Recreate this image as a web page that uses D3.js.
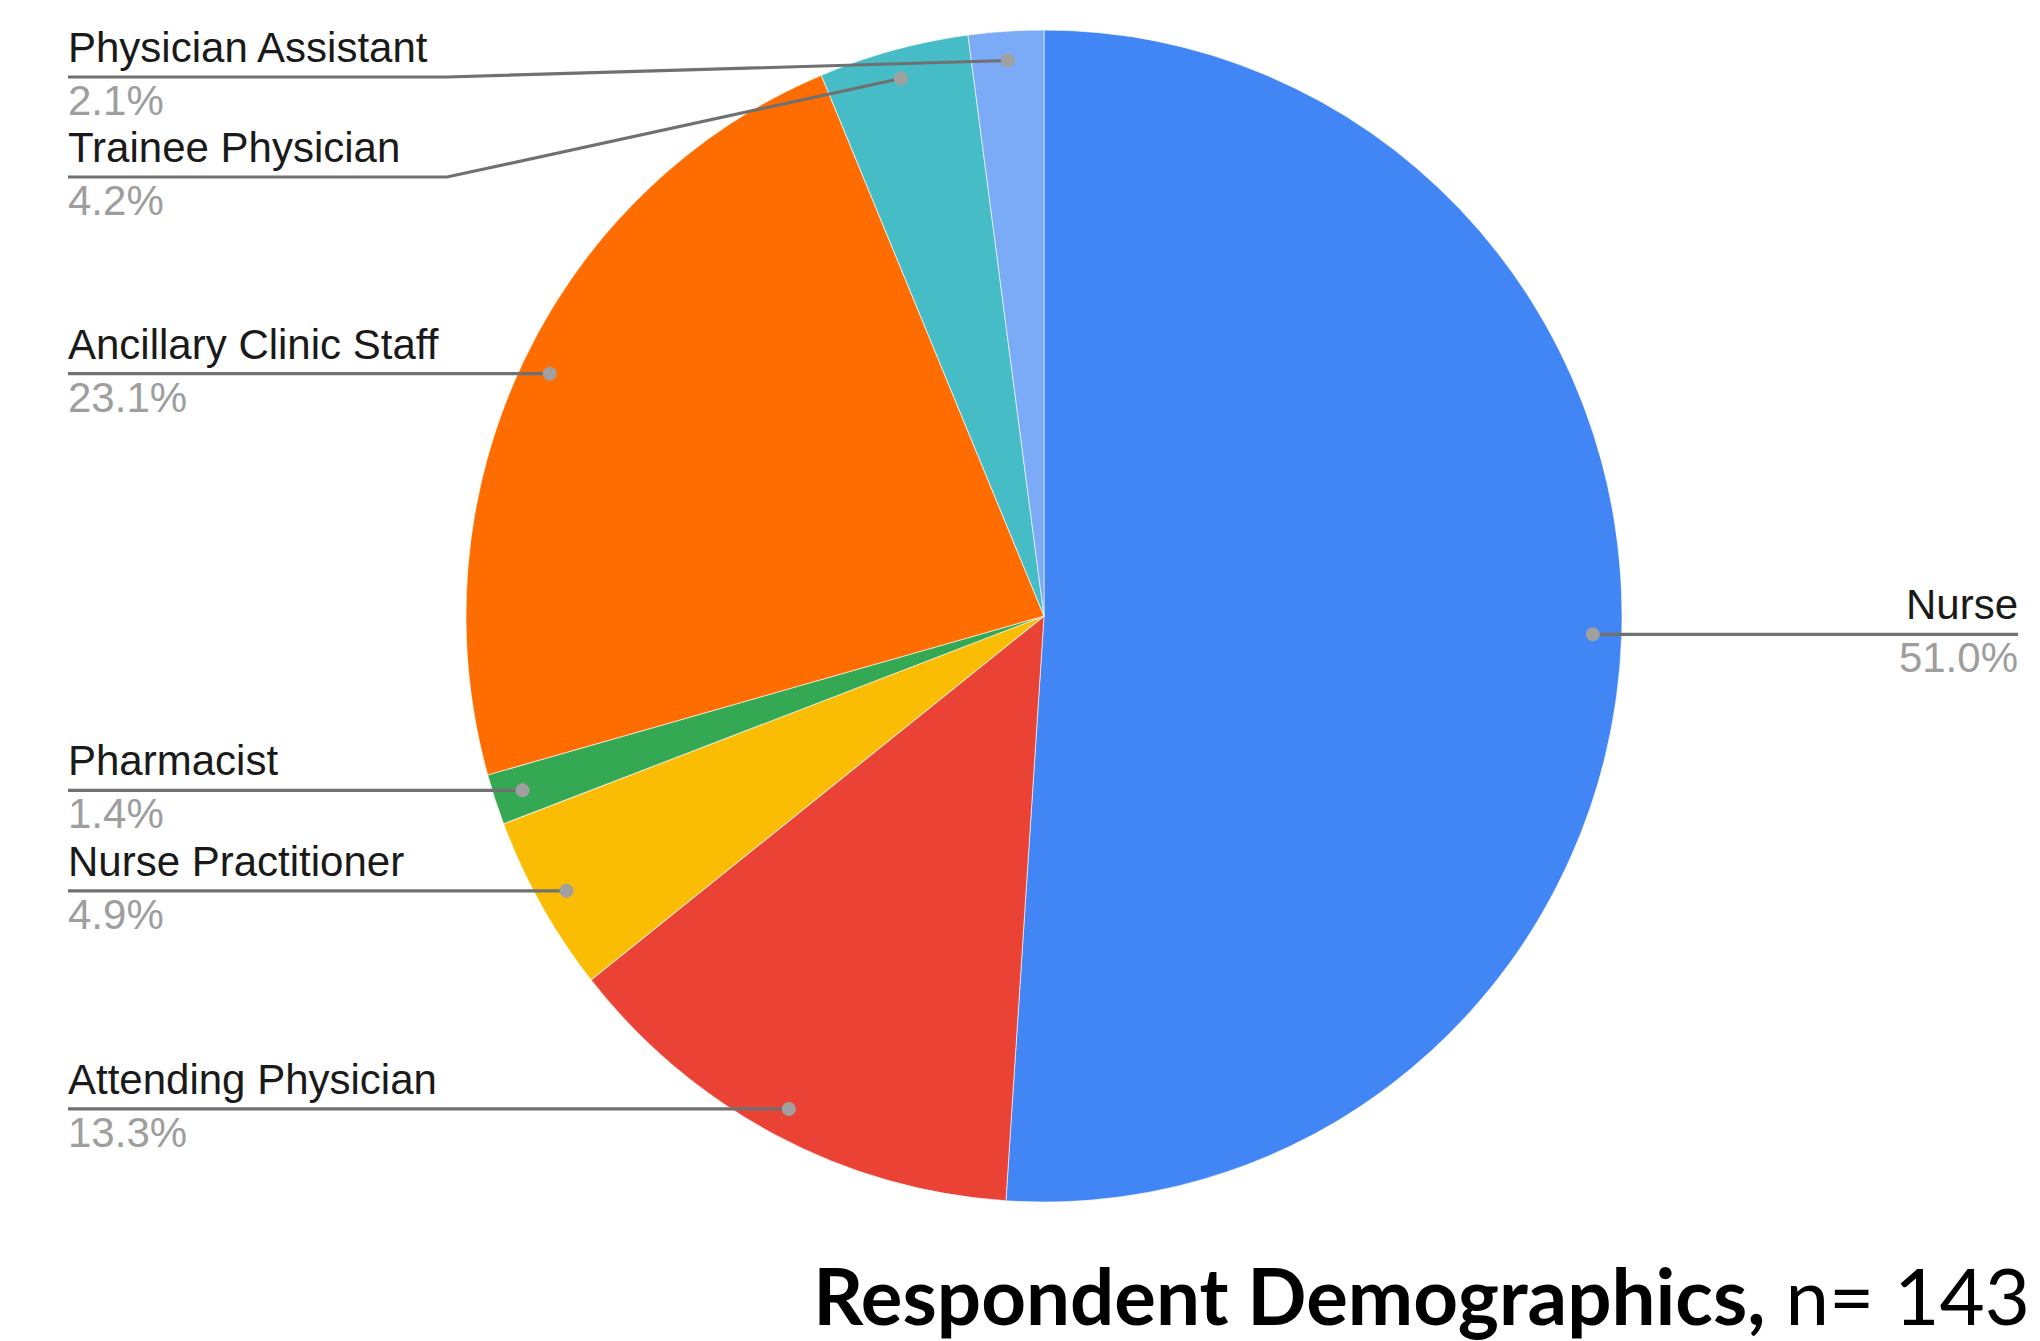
<!DOCTYPE html>
<html>
<head>
<meta charset="utf-8">
<script src="https://cdn.jsdelivr.net/npm/d3@7"></script>
<style>
    body { margin: 0; background: #fff; }
    svg { display: block; }
</style>
</head>
<body>
<script>
// respondent roles, in the order the slices run clockwise from 12 o'clock
var roles = ["Nurse", "Attending Physician", "Nurse Practitioner", "Pharmacist",
    "Ancillary Clinic Staff", "Trainee Physician", "Physician Assistant"];
var counts = [73, 19, 7, 2, 33, 6, 3]; // n = 143
var colors = ["#4285f4", "#ea4335", "#fbbc04", "#34a853", "#ff6d01", "#46bdc6", "#7baaf7"];
var titleBold = "Respondent Demographics,";
var titleRest = " n= 143";

window.onload = function() {

    var w = 2040, h = 1341;
    var cx = 1044, cy = 616;
    var rx = 578, ry = 586; //picture is a touch taller than wide

    var svg = d3.select("body").append("svg")
        .attr("width", w)
        .attr("height", h);

    var total = d3.sum(counts);
    var data = roles.map(function(r, i) {
        return { role: r, count: counts[i], color: colors[i] };
    });

    var pie = d3.pie().value(function(d) { return d.count; }).sort(null);
    var arcs = pie(data);

    var arc = d3.arc().innerRadius(0).outerRadius(rx);

    //pie drawn as a circle then squashed into the ellipse
    var pieG = svg.append("g")
        .attr("transform", "translate(" + cx + "," + cy + ") scale(1," + (ry / rx) + ")");

    pieG.selectAll(".slice")
        .data(arcs)
        .enter()
        .append("path")
        .attr("class", "slice")
        .attr("d", arc)
        .style("fill", function(d) { return d.data.color; })
        .style("stroke", "#ffffff")
        .style("stroke-width", 1)
        .style("stroke-opacity", 0.6);

    //leader dots sit at 95% of the radius on each slice's middle angle
    var dotArc = d3.arc().innerRadius(rx * 0.95).outerRadius(rx * 0.95);
    arcs.forEach(function(d) {
        var c = dotArc.centroid(d);
        d.dx = cx + c[0];
        d.dy = cy + c[1] * ry / rx;
        d.right = c[0] > 0;
    });

    //left labels: keep them apart, top one not above 77
    var left = arcs.filter(function(d) { return !d.right; })
        .sort(function(a, b) { return a.dy - b.dy; });
    var gap = 100, prev = 77 - gap;
    left.forEach(function(d) {
        d.ly = Math.max(d.dy, prev + gap);
        prev = d.ly;
    });
    arcs.filter(function(d) { return d.right; }).forEach(function(d) { d.ly = d.dy; });

    var labelX = 68, elbowX = 447, rightX = 2018;

    var lab = svg.selectAll(".label")
        .data(arcs)
        .enter()
        .append("g")
        .attr("class", "label");

    lab.append("path")
        .attr("d", function(d) {
            if (d.right) {
                return "M" + d.dx + "," + d.dy + "H" + rightX;
            }
            if (Math.abs(d.ly - d.dy) > 1) {
                return "M" + labelX + "," + d.ly + "H" + elbowX + "L" + d.dx + "," + d.dy;
            }
            return "M" + labelX + "," + d.ly + "H" + d.dx;
        })
        .style("fill", "none")
        .style("stroke", "#707070")
        .style("stroke-width", 3.2);

    lab.append("circle")
        .attr("cx", function(d) { return d.dx; })
        .attr("cy", function(d) { return d.dy; })
        .attr("r", 7)
        .style("fill", "#a0a0a0");

    lab.append("text")
        .attr("x", function(d) { return d.right ? rightX : labelX; })
        .attr("y", function(d) { return d.ly - 15; })
        .attr("text-anchor", function(d) { return d.right ? "end" : "start"; })
        .style("font-family", "'Liberation Sans', Arial, sans-serif")
        .style("font-size", "42px")
        .style("fill", "#1a1a1a")
        .text(function(d) { return d.data.role; });

    lab.append("text")
        .attr("x", function(d) { return d.right ? rightX : labelX; })
        .attr("y", function(d) { return d.ly + 38; })
        .attr("text-anchor", function(d) { return d.right ? "end" : "start"; })
        .style("font-family", "'Liberation Sans', Arial, sans-serif")
        .style("font-size", "42px")
        .style("fill", "#9e9e9e")
        .text(function(d) { return (d.data.count / total * 100).toFixed(1) + "%"; });

    //title bottom right, sized to its width in the picture
    var title = svg.append("text")
        .attr("x", 2030)
        .attr("y", 1325)
        .attr("text-anchor", "end")
        .style("font-family", "Lato, 'Open Sans', sans-serif")
        .style("font-size", "80px")
        .style("fill", "#000");
    title.append("tspan").style("font-weight", "bold").text(titleBold);
    title.append("tspan").style("font-weight", "normal").text(titleRest);

    var tw = title.node().getComputedTextLength();
    title.style("font-size", (80 * 1217 / tw) + "px");
};
</script>
</body>
</html>
